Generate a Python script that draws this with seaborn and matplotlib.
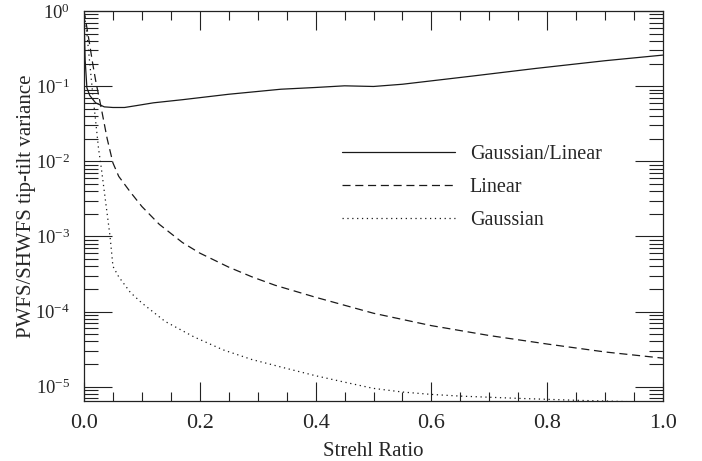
import numpy as np
import pandas as pd
import matplotlib
matplotlib.use("Agg")
import matplotlib.pyplot as plt
import matplotlib.ticker as mticker
from matplotlib import font_manager as fm
import seaborn as sns

# ---------------- data ----------------
ratio_x = [0.0, 0.002, 0.005, 0.01, 0.02, 0.035, 0.05, 0.07, 0.09, 0.12, 0.17,
           0.25, 0.34, 0.40, 0.45, 0.50, 0.55, 0.67, 0.78, 0.90, 1.0]
ratio_y = [0.9, 0.22, 0.095, 0.075, 0.06, 0.053, 0.052, 0.052, 0.055, 0.06, 0.066,
           0.078, 0.091, 0.096, 0.101, 0.099, 0.106, 0.136, 0.172, 0.218, 0.259]

linear_x = [0.0, 0.005, 0.01, 0.015, 0.02, 0.03, 0.04, 0.05, 0.06, 0.08, 0.10, 0.13,
            0.17, 0.20, 0.25, 0.29, 0.33, 0.40, 0.50, 0.60, 0.70, 0.80, 0.90, 1.0]
linear_y = [1.0, 0.6, 0.35, 0.2, 0.12, 0.05, 0.02, 0.0095, 0.0063, 0.0039, 0.0025, 0.00145,
            0.00083, 0.0006, 0.00039, 0.00029, 0.000224, 0.000155, 9.5e-5, 6.5e-5, 4.8e-5,
            3.7e-5, 2.9e-5, 2.4e-5]

gauss_x = [0.0, 0.005, 0.01, 0.015, 0.02, 0.025, 0.03, 0.035, 0.04, 0.045, 0.05, 0.06,
           0.08, 0.10, 0.14, 0.19, 0.24, 0.29, 0.35, 0.40, 0.45, 0.50, 0.55, 0.60, 0.65,
           0.75, 0.85, 0.95, 1.0]
gauss_y = [1.0, 0.5, 0.2, 0.08, 0.035, 0.015, 0.008, 0.004, 0.002, 0.001, 0.0004, 0.00029,
           0.00018, 0.00013, 7.4e-5, 4.6e-5, 3.1e-5, 2.3e-5, 1.75e-5, 1.4e-5, 1.15e-5,
           9.5e-6, 8.5e-6, 7.9e-6, 7.5e-6, 7.0e-6, 6.6e-6, 6.3e-6, 6.2e-6]

series_names = ["Gaussian/Linear", "Linear", "Gaussian"]
x_ticks = [0.0, 0.2, 0.4, 0.6, 0.8, 1.0]
x_label = "Strehl Ratio"
y_label = "PWFS/SHWFS tip-tilt variance"

# ---------------- style ----------------
sns.set_style("ticks")

available = {f.name for f in fm.fontManager.ttflist}
serif = None
for cand in ["Liberation Serif", "Times New Roman", "Nimbus Roman", "TeX Gyre Termes",
             "STIXGeneral", "DejaVu Serif"]:
    if cand in available:
        serif = cand
        break
if serif is None:
    serif = "DejaVu Serif"

plt.rcParams["font.family"] = [serif, "DejaVu Serif"]
plt.rcParams["mathtext.fontset"] = "custom"
plt.rcParams["mathtext.rm"] = serif
plt.rcParams["mathtext.it"] = serif + ":italic"
plt.rcParams["mathtext.default"] = "regular"
plt.rcParams["lines.scale_dashes"] = False

fig = plt.figure(figsize=(7.02, 4.61), dpi=100)
ax = fig.add_axes([84 / 702, 1 - 401 / 461, (663 - 84) / 702, (401 - 11) / 461])

frames = []
for name, xs, ys in [(series_names[0], ratio_x, ratio_y),
                     (series_names[1], linear_x, linear_y),
                     (series_names[2], gauss_x, gauss_y)]:
    frames.append(pd.DataFrame({"x": xs, "y": ys, "series": name}))
df = pd.concat(frames, ignore_index=True)

styles = {series_names[0]: "-",
          series_names[1]: (0, (5.8, 3.4)),
          series_names[2]: (0, (0.9, 2.6))}
for name in series_names:
    sub = df[df["series"] == name]
    sns.lineplot(data=sub, x="x", y="y", ax=ax, color="#1a1a1a", lw=0.9,
                 linestyle=styles[name], label=name, estimator=None, sort=False)

ax.set_yscale("log")
ax.set_xlim(0, 1.0)
ax.set_ylim(10 ** -5.19, 1.0)

ax.xaxis.set_major_locator(mticker.FixedLocator(x_ticks))
ax.xaxis.set_major_formatter(mticker.FormatStrFormatter("%.1f"))
ax.xaxis.set_minor_locator(mticker.MultipleLocator(0.05))
ax.yaxis.set_major_locator(mticker.LogLocator(base=10, numticks=10))
ax.yaxis.set_minor_locator(mticker.LogLocator(base=10, subs=np.arange(2, 10), numticks=20))
ax.yaxis.set_minor_formatter(mticker.NullFormatter())
ax.yaxis.set_major_formatter(
    mticker.FuncFormatter(lambda v, p: r"$10^{%d}$" % int(round(np.log10(v)))))

ax.tick_params(which="both", direction="in", top=True, right=True,
               color="#222222", width=0.8)
ax.tick_params(axis="x", which="major", length=14, labelsize=16, pad=9)
ax.tick_params(axis="x", which="minor", length=6.5)
ax.tick_params(axis="y", which="major", length=20, labelsize=13.5, pad=10)
ax.tick_params(axis="y", which="minor", length=10)

for sp in ax.spines.values():
    sp.set_visible(True)
    sp.set_linewidth(0.9)
    sp.set_color("#222222")

ax.set_xlabel(x_label, fontsize=15)
ax.set_ylabel(y_label, fontsize=15)
ax.xaxis.set_label_coords(0.5, -0.105)
ax.xaxis.label.set_va("top")
ax.yaxis.set_label_coords(-0.083, 0.5)

leg = ax.legend(loc="upper left", bbox_to_anchor=((342 - 84) / 579, (401 - 145) / 390),
                frameon=False, fontsize=14.5, handlelength=5.6, handletextpad=0.75,
                labelspacing=0.7, borderpad=0, borderaxespad=0)

fig.savefig("out.png", dpi=100)
